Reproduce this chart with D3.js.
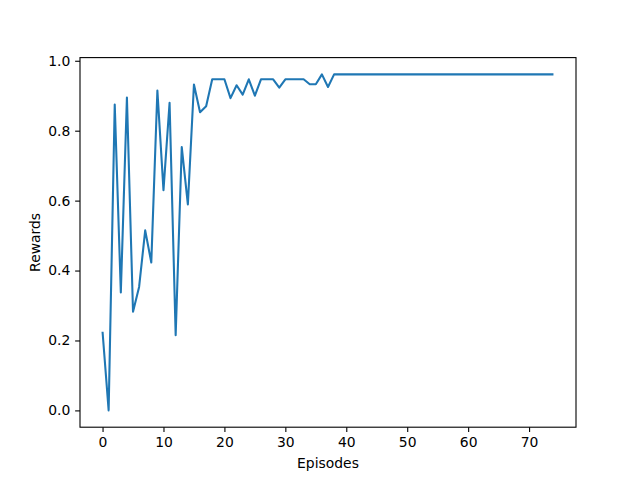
<!DOCTYPE html>
<meta charset="utf-8">
<title>Rewards per episode</title>
<style>
body { margin: 0; background: #fff; }
text { font-family: "DejaVu Sans", sans-serif; }
</style>
<script src="https://cdn.jsdelivr.net/npm/d3@7"></script>
<body>
<script>
// rewards per episode (episodes 0..38, then flat)
var rewardsHead = [0.225, 0.0, 0.875, 0.337, 0.895, 0.282, 0.353, 0.515, 0.423, 0.915,
                   0.63, 0.88, 0.215, 0.753, 0.589, 0.932, 0.853, 0.87, 0.947, 0.947,
                   0.947, 0.893, 0.93, 0.903, 0.947, 0.90, 0.947, 0.947, 0.947, 0.923,
                   0.947, 0.947, 0.947, 0.947, 0.933, 0.933, 0.961, 0.925, 0.961];
var rewardsTail = [0.961, 0.961, 0.961, 0.961, 0.961, 0.961, 0.961, 0.961, 0.961, 0.961,
                   0.961, 0.961, 0.961, 0.961, 0.961, 0.961, 0.961, 0.961, 0.961, 0.961,
                   0.961, 0.961, 0.961, 0.961, 0.961, 0.961, 0.961, 0.961, 0.961, 0.961,
                   0.961, 0.961, 0.961, 0.961, 0.961, 0.961];
var rewards = rewardsHead.concat(rewardsTail);
var xTicks = [0, 10, 20, 30, 40, 50, 60, 70];
var yTicks = [0.0, 0.2, 0.4, 0.6, 0.8, 1.0];

var width = 640, height = 480;
var mLeft = 80, mRight = 576, mTop = 57.6, mBottom = 427.2;
var tickLen = 4.86, fs = 13.9;

var data = rewards.map(function(v, i) { return {ep: i, r: v}; });

var xMax = data.length - 1;
var yMin = d3.min(rewards), yMax = d3.max(rewards);
var xPad = xMax * 0.05, yPad = (yMax - yMin) * 0.05;

var x = d3.scaleLinear().domain([-xPad, xMax + xPad]).range([mLeft, mRight]);
var y = d3.scaleLinear().domain([yMin - yPad, yMax + yPad]).range([mBottom, mTop]);

var svg = d3.select('body').append('svg')
  .attr('width', width).attr('height', height);

svg.append('rect').attr('width', width).attr('height', height).attr('fill', '#fff');

var line = d3.line()
  .x(function(d) { return x(d.ep); })
  .y(function(d) { return y(d.r); });

svg.append('path')
  .datum(data)
  .attr('d', line)
  .attr('fill', 'none')
  .attr('stroke', '#1f77b4')
  .attr('stroke-width', 2.08)
  .attr('stroke-linejoin', 'round')
  .attr('stroke-linecap', 'butt');

var xAxis = svg.append('g')
  .attr('transform', 'translate(0,' + mBottom + ')')
  .call(d3.axisBottom(x).tickValues(xTicks).tickFormat(d3.format('d'))
        .tickSizeInner(tickLen).tickSizeOuter(0).tickPadding(4.86));

var yAxis = svg.append('g')
  .attr('transform', 'translate(' + mLeft + ',0)')
  .call(d3.axisLeft(y).tickValues(yTicks).tickFormat(d3.format('.1f'))
        .tickSizeInner(tickLen).tickSizeOuter(0).tickPadding(4.86));

[xAxis, yAxis].forEach(function(g) {
  g.select('.domain').remove();
  g.selectAll('line').attr('stroke', '#000').attr('stroke-width', 1.1);
  g.selectAll('text').attr('fill', '#000')
    .style('font-size', fs + 'px')
    .style('font-family', '"DejaVu Sans", sans-serif');
});

// frame
svg.append('rect')
  .attr('x', mLeft).attr('y', mTop)
  .attr('width', mRight - mLeft).attr('height', mBottom - mTop)
  .attr('fill', 'none').attr('stroke', '#000').attr('stroke-width', 1.1);

svg.append('text')
  .attr('x', (mLeft + mRight) / 2).attr('y', 468)
  .attr('text-anchor', 'middle')
  .style('font-size', fs + 'px')
  .text('Episodes');

svg.append('text')
  .attr('transform', 'translate(40,' + ((mTop + mBottom) / 2) + ') rotate(-90)')
  .attr('text-anchor', 'middle')
  .style('font-size', fs + 'px')
  .text('Rewards');
</script>
</body>
